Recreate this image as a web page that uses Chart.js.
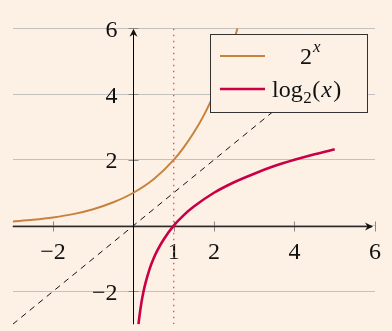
<!DOCTYPE html>
<html>
<head>
<meta charset="utf-8">
<script src="https://cdn.jsdelivr.net/npm/chart.js@4.4.1/dist/chart.umd.min.js"></script>
<style>
  html, body { margin: 0; padding: 0; background: #fdf1e6; }
  #wrap { width: 392px; height: 331px; }
</style>
</head>
<body>
<div id="wrap"><canvas id="plot"></canvas></div>
<script>
// values
const expX = [-3, -2.5, -2, -1.5, -1, -0.5, 0, 0.5, 1, 1.25, 1.5, 1.75, 2, 2.15, 2.3, 2.45, 2.585];
const expY = [0.125, 0.18, 0.25, 0.35, 0.5, 0.71, 1, 1.41, 2, 2.38, 2.83, 3.36, 4, 4.44, 4.92, 5.46, 6];
const logX = [0.125, 0.15, 0.2, 0.25, 0.3, 0.4, 0.5, 0.6, 0.75, 1, 1.25, 1.5, 2, 2.5, 3, 3.5, 4, 4.5, 5];
const logY = [-3, -2.74, -2.32, -2, -1.74, -1.32, -1, -0.74, -0.42, 0, 0.32, 0.58, 1, 1.32, 1.58, 1.81, 2, 2.17, 2.32];
const diagX = [-3, 5.6];
const diagY = [-3, 5.6];
const markX = [1, 1];
const markY = [-3, 6];

const xTicks = [-2, 1, 2, 4, 6];
const yTicks = [-2, 2, 4, 6];
const gridY = [-2, 0, 2, 4, 6];
const seriesNames = ['2ˣ', 'log₂(x)'];

const SERIF = '"Liberation Serif", "Times New Roman", serif';
const pts = (xs, ys) => xs.map((x, i) => ({ x: x, y: ys[i] }));
const minus = v => (v < 0 ? '\u2212' + Math.abs(v) : String(v));

// axes through the origin, with arrows, tick marks and labels
const axesPlugin = {
  id: 'axes',
  beforeDatasetsDraw(chart) {
    const { ctx, chartArea: a, scales: { x, y } } = chart;
    const x0 = Math.round(x.getPixelForValue(0)) + 0.5;
    const y0 = Math.round(y.getPixelForValue(0)) + 0.5;
    ctx.save();

    ctx.strokeStyle = '#8c8884';
    ctx.lineWidth = 1;
    ctx.beginPath();
    xTicks.forEach(v => {
      const px = Math.round(x.getPixelForValue(v)) + 0.5;
      ctx.moveTo(px, y0 - 5); ctx.lineTo(px, y0 + 5);
    });
    yTicks.forEach(v => {
      const py = Math.round(y.getPixelForValue(v)) + 0.5;
      ctx.moveTo(x0 - 5, py); ctx.lineTo(x0 + 5, py);
    });
    ctx.stroke();

    ctx.strokeStyle = '#2a2a2a';
    ctx.lineWidth = 1.4;
    ctx.beginPath();
    ctx.moveTo(a.left, y0); ctx.lineTo(a.right - 3, y0);
    ctx.stroke();
    ctx.strokeStyle = '#000';
    ctx.lineWidth = 1;
    ctx.beginPath();
    ctx.moveTo(x0, a.bottom); ctx.lineTo(x0, a.top + 3);
    ctx.stroke();

    ctx.fillStyle = '#111';
    ctx.beginPath();
    let tx = a.right - 2, ty = y0;
    ctx.moveTo(tx, ty); ctx.lineTo(tx - 8, ty - 4); ctx.lineTo(tx - 5.5, ty); ctx.lineTo(tx - 8, ty + 4);
    ctx.closePath();
    tx = x0; ty = a.top + 0.5;
    ctx.moveTo(tx, ty); ctx.lineTo(tx - 4, ty + 8); ctx.lineTo(tx, ty + 5.5); ctx.lineTo(tx + 4, ty + 8);
    ctx.closePath();
    ctx.fill();

    ctx.fillStyle = '#111';
    ctx.font = '24px ' + SERIF;
    ctx.textBaseline = 'alphabetic';
    ctx.textAlign = 'center';
    xTicks.forEach(v => ctx.fillText(minus(v), x.getPixelForValue(v), y0 + 32));
    ctx.textAlign = 'right';
    yTicks.forEach(v => ctx.fillText(minus(v), x0 - 16, y.getPixelForValue(v) + 8.5));
    ctx.restore();
  }
};

// legend box drawn over the plot
const legendPlugin = {
  id: 'boxLegend',
  afterDatasetsDraw(chart) {
    const { ctx } = chart;
    const ds = chart.data.datasets;
    ctx.save();
    ctx.fillStyle = '#fdf1e6';
    ctx.fillRect(210.5, 34.5, 157, 78);
    ctx.strokeStyle = '#333';
    ctx.lineWidth = 1;
    ctx.strokeRect(210.5, 34.5, 157, 78);

    [56, 89].forEach((ly, i) => {
      ctx.strokeStyle = ds[i].borderColor;
      ctx.lineWidth = ds[i].borderWidth;
      ctx.beginPath();
      ctx.moveTo(220, ly); ctx.lineTo(265, ly);
      ctx.stroke();
    });

    ctx.fillStyle = '#111';
    ctx.textBaseline = 'alphabetic';
    ctx.textAlign = 'left';
    // 2^x
    ctx.font = '24px ' + SERIF;
    ctx.fillText('2', 300, 63.5);
    ctx.font = 'italic 17px ' + SERIF;
    ctx.fillText('x', 313, 52);
    // log_2(x)
    let cx = 272;
    ctx.font = '24px ' + SERIF;
    ctx.fillText('log', cx, 97);
    cx += ctx.measureText('log').width + 0.5;
    ctx.font = '17px ' + SERIF;
    ctx.fillText('2', cx, 103);
    cx += ctx.measureText('2').width + 0.5;
    ctx.font = '24px ' + SERIF;
    ctx.fillText('(', cx, 97);
    cx += ctx.measureText('(').width + 1;
    ctx.font = 'italic 24px ' + SERIF;
    ctx.fillText('x', cx, 97);
    cx += ctx.measureText('x').width + 1.5;
    ctx.font = '24px ' + SERIF;
    ctx.fillText(')', cx, 97);
    ctx.restore();
  }
};

new Chart(document.getElementById('plot'), {
  type: 'scatter',
  data: {
    datasets: [
      {
        label: seriesNames[0],
        data: pts(expX, expY),
        showLine: true,
        borderColor: '#c8823e',
        borderWidth: 2,
        pointRadius: 0,
        cubicInterpolationMode: 'monotone'
      },
      {
        label: seriesNames[1],
        data: pts(logX, logY),
        showLine: true,
        borderColor: '#c90046',
        borderWidth: 2.6,
        pointRadius: 0,
        cubicInterpolationMode: 'monotone'
      },
      {
        label: 'y = x',
        data: pts(diagX, diagY),
        showLine: true,
        borderColor: '#111',
        borderWidth: 1,
        borderDash: [6, 5],
        pointRadius: 0
      },
      {
        label: 'x = 1',
        data: pts(markX, markY),
        showLine: true,
        borderColor: '#f8505a',
        borderWidth: 1.4,
        borderDash: [1.5, 4.5],
        pointRadius: 0
      }
    ]
  },
  options: {
    responsive: true,
    maintainAspectRatio: false,
    animation: false,
    layout: { padding: { left: 12.7, right: 17, top: 28.3, bottom: 6.7 } },
    plugins: { legend: { display: false }, tooltip: { enabled: false } },
    scales: {
      x: { type: 'linear', min: -3, max: 6, display: false },
      y: {
        type: 'linear', min: -3, max: 6,
        ticks: { display: false },
        border: { display: false },
        grid: { color: '#c4c2c0', lineWidth: 1, drawTicks: false },
        afterFit: s => { s.width = 0; },
        afterBuildTicks: s => { s.ticks = gridY.map(v => ({ value: v })); }
      }
    }
  },
  plugins: [axesPlugin, legendPlugin]
});
</script>
</body>
</html>
